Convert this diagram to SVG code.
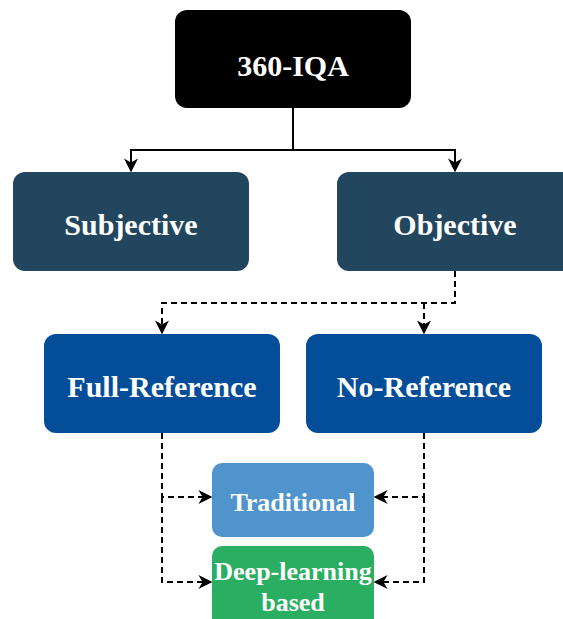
<svg xmlns="http://www.w3.org/2000/svg" width="563" height="619" viewBox="0 0 563 619">
<defs>
<marker id="arr" viewBox="0 0 10 10" refX="9" refY="5" markerWidth="14" markerHeight="14" markerUnits="userSpaceOnUse" orient="auto">
<path d="M0,0 L10,5 L0,10 L3,5 Z" fill="#000"/>
</marker>
<style>
text{font-family:"Liberation Serif","Times New Roman",serif;font-weight:bold;fill:#fff;text-anchor:middle}
.c{fill:none;stroke:#000;stroke-width:2}
.d{stroke-dasharray:6 4}
</style>
</defs>
<rect width="563" height="619" fill="#fff"/>
<g id="n360"><rect x="175" y="10" width="236" height="98" rx="12" fill="#000"/><text x="293" y="76" font-size="30">360-IQA</text></g>
<g id="subjective"><rect x="13" y="172" width="236" height="99" rx="12" fill="#23465F"/><text x="131" y="235" font-size="30">Subjective</text></g>
<g id="objective"><rect x="337" y="172" width="240" height="99" rx="12" fill="#23465F"/><text x="455" y="235" font-size="30">Objective</text></g>
<g id="fullref"><rect x="44" y="334" width="236" height="99" rx="12" fill="#044E99"/><text x="162" y="397" font-size="30">Full-Reference</text></g>
<g id="noref"><rect x="306" y="334" width="236" height="99" rx="12" fill="#044E99"/><text x="424" y="397" font-size="30">No-Reference</text></g>
<g id="traditional"><rect x="212" y="463" width="162" height="74" rx="10" fill="#4F94CD"/><text x="293" y="511" font-size="26">Traditional</text></g>
<g id="deep"><rect x="212" y="546" width="162" height="84" rx="10" fill="#2AAE62"/><text x="293" y="580" font-size="26">Deep-learning</text><text x="293" y="611" font-size="26">based</text></g>
<g id="connectors">
<path class="c" d="M293,108 V150 H131 V171" marker-end="url(#arr)"/>
<path class="c" d="M293,150 H455 V171" marker-end="url(#arr)"/>
<path class="c d" d="M455,271 V303 H162 V333" marker-end="url(#arr)"/>
<path class="c d" d="M424,303 V333" marker-end="url(#arr)"/>
<path class="c d" d="M162,433 V497 H211" marker-end="url(#arr)"/>
<path class="c d" d="M162,497 V582 H211" marker-end="url(#arr)"/>
<path class="c d" d="M424,433 V497 H375" marker-end="url(#arr)"/>
<path class="c d" d="M424,497 V582 H375" marker-end="url(#arr)"/>
</g>
</svg>
